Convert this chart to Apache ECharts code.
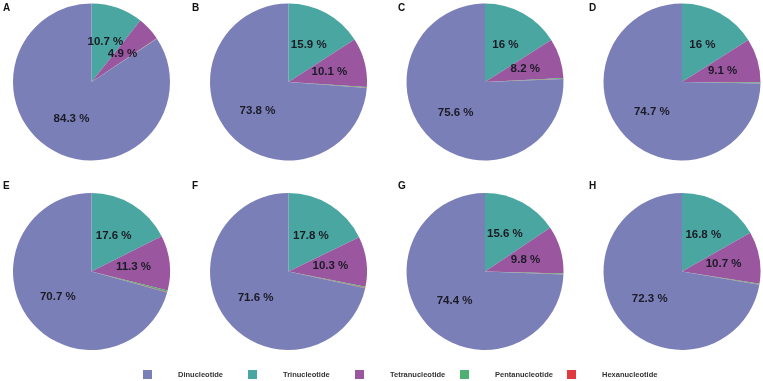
<!DOCTYPE html>
<html>
<head>
<meta charset="utf-8">
<script src="https://cdn.jsdelivr.net/npm/echarts@6/dist/echarts.min.js"></script>
<style>
html,body{margin:0;padding:0;background:#fff;}
#chart{width:763px;height:381px;}
</style>
</head>
<body>
<div id="chart"></div>
<script>
// Data
const categories = ['Dinucleotide', 'Trinucleotide', 'Tetranucleotide', 'Pentanucleotide', 'Hexanucleotide'];
const panels = ['A', 'B', 'C', 'D', 'E', 'F', 'G', 'H'];
const dinucleotide    = [84.3, 73.8, 75.6, 74.7, 70.7, 71.6, 74.4, 72.3];
const trinucleotide   = [10.7, 15.9, 16, 16, 17.6, 17.8, 15.6, 16.8];
const tetranucleotide = [4.9, 10.1, 8.2, 9.1, 11.3, 10.3, 9.8, 10.7];
const pentanucleotide = [0.08, 0.15, 0.15, 0.15, 0.3, 0.22, 0.15, 0.15];
const hexanucleotide  = [0.02, 0.05, 0.05, 0.05, 0.1, 0.08, 0.05, 0.05];

const colors = {
  'Dinucleotide': '#7b7fb7',
  'Trinucleotide': '#4aa6a0',
  'Tetranucleotide': '#9b56a0',
  'Pentanucleotide': '#4fae72',
  'Hexanucleotide': '#e0393e'
};

const colX = [91.5, 288.5, 485, 682];
const rowY = [82, 271.5];
const letterX = [3, 192, 398, 589];
const letterY = [3, 181];
const R = 78.5;

const series = [];
const titles = [];
panels.forEach((p, i) => {
  const col = i % 4, row = Math.floor(i / 4);
  const data = [
    { name: categories[1], value: trinucleotide[i] },
    { name: categories[2], value: tetranucleotide[i] },
    { name: categories[3], value: pentanucleotide[i], label: { show: false } },
    { name: categories[4], value: hexanucleotide[i], label: { show: false } },
    { name: categories[0], value: dinucleotide[i] }
  ];
  series.push({
    type: 'pie',
    name: p,
    center: [colX[col], rowY[row]],
    radius: [0, R],
    startAngle: 90,
    clockwise: true,
    avoidLabelOverlap: false,
    silent: true,
    animation: false,
    itemStyle: { borderWidth: 0 },
    labelLayout: { hideOverlap: false },
    label: {
      show: true,
      position: 'inside',
      formatter: (d) => d.value + ' %',
      color: '#1b1b26',
      fontFamily: 'Liberation Sans, Arial, sans-serif',
      fontWeight: 'bold',
      fontSize: 11.5
    },
    labelLine: { show: false },
    data: data.map(d => Object.assign(d, { itemStyle: { color: colors[d.name] } }))
  });
  titles.push({
    text: p,
    left: letterX[col],
    top: letterY[row],
    padding: 0,
    textStyle: { fontFamily: 'Liberation Sans, Arial, sans-serif', fontWeight: 'bold', fontSize: 10, color: '#111' }
  });
});

const legendX = [143, 248, 355, 460, 567];
const legendOrder = categories;
const legends = legendOrder.map((name, k) => ({
  data: [name],
  left: legendX[k],
  top: 370,
  padding: 0,
  itemWidth: 9,
  itemHeight: 9,
  icon: 'rect',
  selectedMode: false,
  textStyle: {
    fontFamily: 'Liberation Sans, Arial, sans-serif',
    fontWeight: 'bold',
    fontSize: 7.5,
    color: '#333',
    padding: [0, 0, 0, 21]
  }
}));

const chart = echarts.init(document.getElementById('chart'), null, { renderer: 'canvas' });
chart.setOption({
  backgroundColor: '#ffffff',
  animation: false,
  color: categories.map(c => colors[c]),
  title: titles,
  legend: legends,
  series: series
});
</script>
</body>
</html>
